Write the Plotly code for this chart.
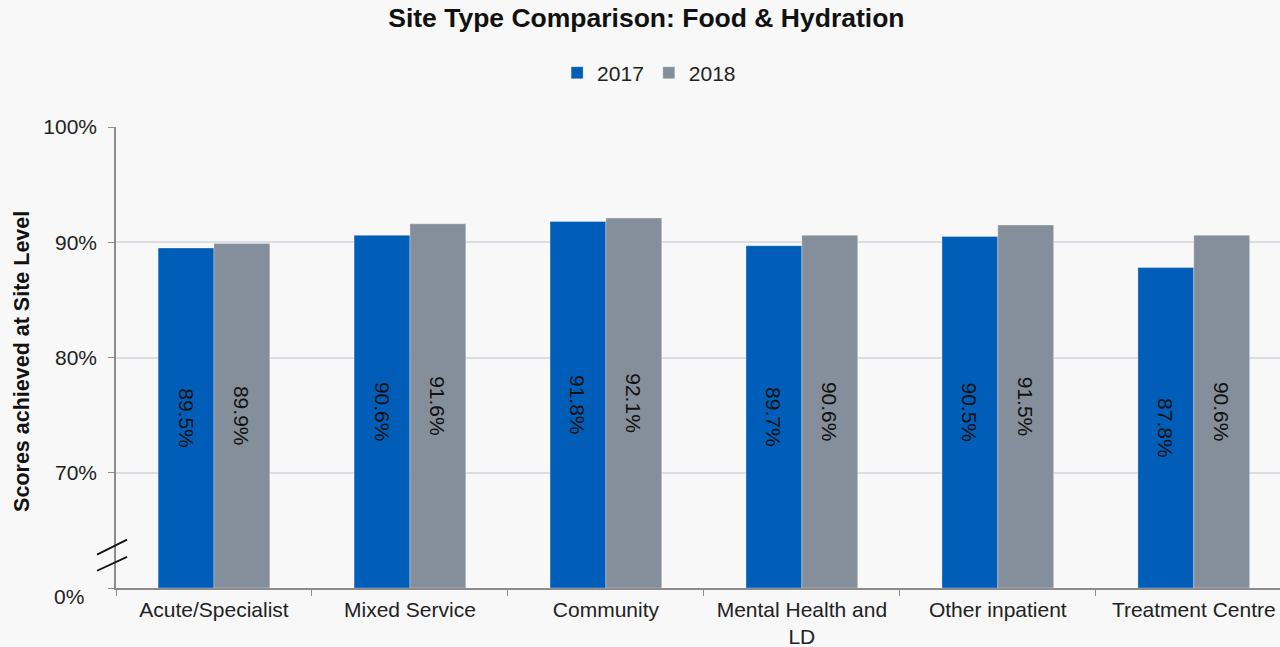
import plotly.graph_objects as go

# data
site_types = ["Acute/Specialist", "Mixed Service", "Community",
              "Mental Health and<br>LD", "Other inpatient", "Treatment Centre"]
scores_2017 = [89.5, 90.6, 91.8, 89.7, 90.5, 87.8]
scores_2018 = [89.9, 91.6, 92.1, 90.6, 91.5, 90.6]
y_ticks = [60, 70, 80, 90, 100]
y_tick_text = ["", "70%", "80%", "90%", "100%"]
axis_break = 60  # the axis jumps from 0% to here

blue = "#005EB8"
grey = "#858F9B"
bg = "#F8F8F8"
font = "Liberation Sans, Arial, sans-serif"

fig = go.Figure()
for name, vals, col in [("2017", scores_2017, blue), ("2018", scores_2018, grey)]:
    # bars start at the break so the labels sit in the visible part
    fig.add_trace(go.Bar(
        name=name, x=site_types, y=[v - axis_break for v in vals], base=axis_break,
        marker=dict(color=col, line=dict(color="rgba(255,255,255,0.3)", width=1)),
        text=[f"{v:.1f}%" for v in vals],
        textposition="inside", insidetextanchor="middle",
        textangle=90, textfont=dict(color="#111111", size=21, family=font),
        hovertemplate="%{x}: %{text}<extra>" + name + "</extra>",
    ))

fig.update_layout(
    width=1280, height=647,
    paper_bgcolor=bg, plot_bgcolor=bg,
    font=dict(family=font, size=21, color="#222222"),
    margin=dict(l=116, r=0, t=127, b=59, autoexpand=False),
    barmode="group", bargap=0.43, bargroupgap=0,
    title=dict(text="<b>Site Type Comparison: Food & Hydration</b>",
               x=0.505, xanchor="center", y=0.972, yanchor="middle",
               font=dict(size=26.5, color="#111111")),
    legend=dict(orientation="h", x=0.458, xanchor="center",
                y=1.117, yanchor="middle", font=dict(size=21),
                itemwidth=30, tracegroupgap=0),
    showlegend=True,
)

fig.update_xaxes(
    range=[-0.5, 5.44], showline=True, linecolor="#8C8C8C", linewidth=1.5,
    ticks="outside", ticklen=6, tickcolor="#8C8C8C", tickson="boundaries",
    ticklabelstandoff=2, automargin=False,
    showgrid=False, tickangle=0, tickfont=dict(size=21, color="#222222"),
)
fig.update_yaxes(
    range=[60, 100], tickvals=y_ticks, ticktext=y_tick_text,
    showline=True, linecolor="#8C8C8C", linewidth=1.5,
    ticks="outside", ticklen=6, tickcolor="#8C8C8C", ticklabelstandoff=7,
    gridcolor="#D9DEE5", gridwidth=1.5, zeroline=False, automargin=False,
    tickfont=dict(size=21, color="#222222"),
)

# y axis title, placed closer to the tick labels than plotly's default
fig.add_annotation(text="<b>Scores achieved at Site Level</b>", textangle=-90,
                   xref="paper", x=-0.081, xanchor="center",
                   yref="paper", y=0.492, yanchor="middle", showarrow=False,
                   font=dict(size=21.5, color="#111111"))

# "0%" label below the axis break
fig.add_annotation(text="0%", xref="paper", x=-0.026, xanchor="right",
                   yref="y", y=60, yshift=-8, showarrow=False,
                   font=dict(size=21, color="#222222"))

# axis break marks
for y0, y1 in [(62.9, 64.2), (61.5, 62.7)]:
    fig.add_shape(type="line", xref="paper", yref="y",
                  x0=-0.0163, x1=0.0095, y0=y0, y1=y1,
                  line=dict(color="#111111", width=1.8))

fig.write_html("out.html", config={"displayModeBar": False},
               post_script="document.body.style.margin='0';")
